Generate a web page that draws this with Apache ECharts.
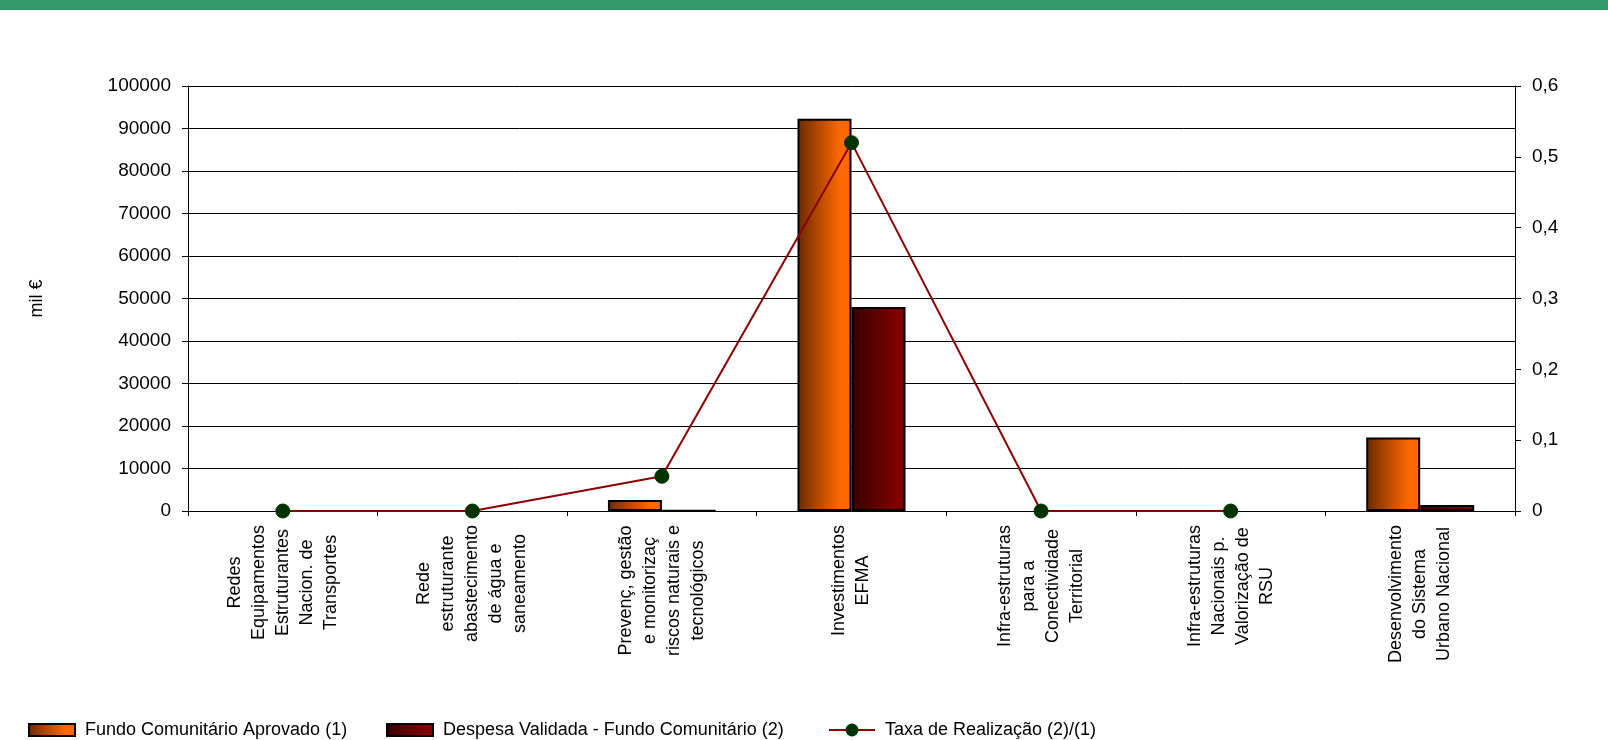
<!DOCTYPE html>
<html>
<head>
<meta charset="utf-8">
<script src="https://cdn.jsdelivr.net/npm/echarts@6/dist/echarts.min.js"></script>
<style>
html,body{margin:0;padding:0;background:#fff;}
#chart{width:1608px;height:740px;}
</style>
</head>
<body>
<div id="chart"></div>
<script>
const categories = [
  "Redes\nEquipamentos\nEstruturantes\nNacion. de\nTransportes",
  "Rede\nestruturante\nabastecimento\nde água e\nsaneamento",
  "Prevenç, gestão\ne monitorizaç\nriscos naturais e\ntecnológicos",
  "Investimentos\nEFMA",
  "Infra-estruturas\npara a\nConectividade\nTerritorial",
  "Infra-estruturas\nNacionais p.\nValorização de\nRSU",
  "Desenvolvimento\ndo Sistema\nUrbano Nacional"
];
const fundoAprovado = [0, 0, 2600, 92300, 0, 0, 17300];
const despesaValidada = [0, 0, 130, 48000, 0, 0, 1400];
const taxaRealizacao = [0, 0, 0.049, 0.52, 0, 0, null];
const seriesNames = ["Fundo Comunitário Aprovado (1)", "Despesa Validada - Fundo Comunitário (2)", "Taxa de Realização (2)/(1)"];
const leftTicks = {min: 0, max: 100000, interval: 10000};
const rightTicks = {min: 0, max: 0.6, interval: 0.1};

const FONT = "'Liberation Sans', Arial, sans-serif";
const chart = echarts.init(document.getElementById('chart'), null, {renderer: 'canvas'});

const fundoGrad = new echarts.graphic.LinearGradient(0, 0, 1, 0, [
  {offset: 0, color: '#6b2a00'},
  {offset: 0.8, color: '#ff6a00'},
  {offset: 1, color: '#ff6600'}
]);
const despGrad = new echarts.graphic.LinearGradient(0, 0, 1, 0, [
  {offset: 0, color: '#360000'},
  {offset: 0.85, color: '#800000'},
  {offset: 1, color: '#800000'}
]);

// zero-height bars are not drawn (no stroke on the axis)
function barData(arr) { return arr.map(function (v) { return v === 0 ? '-' : v; }); }

function legendAt(name, left, icon, h) {
  const l = {
    data: [name], left: left, top: 732, orient: 'horizontal', padding: 0, itemWidth: 46, itemHeight: h,
    textStyle: {fontFamily: FONT, fontSize: 18, color: '#000', padding: [0, 0, 0, 5]},
    selectedMode: false
  };
  l.top = 730 - Math.max(h, 18) / 2;
  if (icon) l.icon = icon;
  return l;
}

const option = {
  animation: false,
  backgroundColor: '#fff',
  graphic: [{type: 'rect', shape: {x: 0, y: 0, width: 1608, height: 10}, style: {fill: '#339966'}, silent: true}],
  legend: [legendAt(seriesNames[0], 28, 'rect', 12), legendAt(seriesNames[1], 386, 'rect', 12), legendAt(seriesNames[2], 828, null, 16)],
  grid: {left: 188, right: 93, top: 86, bottom: 229},
  xAxis: {
    type: 'category', data: categories,
    axisLine: {lineStyle: {color: '#000', width: 1}},
    axisTick: {show: true, length: 5, lineStyle: {color: '#000'}},
    axisLabel: {
      interval: 0, rotate: 90, margin: 14,
      formatter: function (v) { return v.split('\n').map(function (s) { return '{c|' + s + '}'; }).join('\n'); },
      rich: {c: {align: 'center', fontFamily: FONT, fontSize: 18, lineHeight: 24, color: '#000'}}
    }
  },
  yAxis: [{
    type: 'value', min: leftTicks.min, max: leftTicks.max, interval: leftTicks.interval,
    name: 'mil €', nameLocation: 'middle', nameGap: 142, nameRotate: 90,
    nameTextStyle: {fontFamily: FONT, fontSize: 18, color: '#000'},
    axisLine: {show: true, lineStyle: {color: '#000'}},
    axisTick: {show: true, length: 6, lineStyle: {color: '#000'}},
    axisLabel: {fontFamily: FONT, fontSize: 19, color: '#000', margin: 17,
      formatter: function (v) { return String(v); }},
    splitLine: {show: true, lineStyle: {color: '#000', width: 1}}
  }, {
    type: 'value', position: 'right', min: rightTicks.min, max: rightTicks.max, interval: rightTicks.interval,
    axisLine: {show: true, lineStyle: {color: '#000'}},
    axisTick: {show: true, length: 6, lineStyle: {color: '#000'}},
    axisLabel: {fontFamily: FONT, fontSize: 19, color: '#000', margin: 17,
      formatter: function (v) { return v === 0 ? '0' : v.toFixed(1).replace('.', ','); }},
    splitLine: {show: false}
  }],
  series: [{
    name: seriesNames[0], type: 'bar', data: barData(fundoAprovado), barWidth: 54, barGap: '0%',
    itemStyle: {color: fundoGrad, borderColor: '#000', borderWidth: 2}
  }, {
    name: seriesNames[1], type: 'bar', data: barData(despesaValidada), barWidth: 54, barGap: '0%',
    itemStyle: {color: despGrad, borderColor: '#000', borderWidth: 2}
  }, {
    name: seriesNames[2], type: 'line', yAxisIndex: 1, data: taxaRealizacao,
    symbol: 'circle', symbolSize: 14, showAllSymbol: true, connectNulls: false,
    lineStyle: {color: '#8b0000', width: 2},
    itemStyle: {color: '#003300', borderColor: '#003300'},
    z: 5
  }]
};
chart.setOption(option);
</script>
</body>
</html>
